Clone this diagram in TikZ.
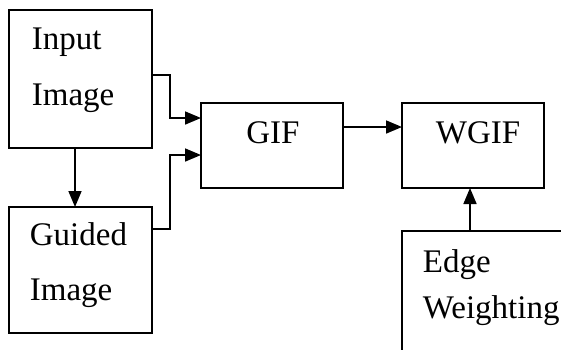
\documentclass[tikz,border=0pt]{standalone}
\usepackage{fontspec}
\setmainfont{Liberation Serif}
\usetikzlibrary{arrows.meta}

\begin{document}
\begin{tikzpicture}[x=1pt,y=-1pt,line width=1.7pt,
    blockbox/.style={draw,inner sep=0pt,outer sep=0pt},
    label/.style={inner sep=0pt,font=\fontsize{33}{38}\selectfont},
    arr/.style={-{Triangle[length=16pt,width=13pt]}}]
  \useasboundingbox (0,0) rectangle (561,349);
  \clip (0,0) rectangle (561,349);
  \node[blockbox,minimum width=143pt,minimum height=138pt] (inp) at (80.5,79) {};
  \node[blockbox,minimum width=143pt,minimum height=126pt] (gui) at (80.5,270) {};
  \node[blockbox,minimum width=142pt,minimum height=85pt] (gif) at (272,145.5) {};
  \node[blockbox,minimum width=142pt,minimum height=85pt] (wgif) at (473,145.5) {};
  \node[blockbox,minimum width=170pt,minimum height=130pt] (edge) at (487,296) {};
  % texts
  \node[label,anchor=base west] (inp1) at (31,49) {Input};
  \node[label,anchor=base west] (inp2) at (31,105) {Image};
  \node[label,anchor=base west] (gui1) at (29,245) {Guided};
  \node[label,anchor=base west] (gui2) at (29,300) {Image};
  \node[label,anchor=base] (giftxt) at (273,143) {GIF};
  \node[label,anchor=base] (wgiftxt) at (478,143) {WGIF};
  \node[label,anchor=base west] (edge1) at (422,272) {Edge};
  \node[label,anchor=base west] (edge2) at (422,318) {Weighting};
  % connectors
  \draw[arr] ([yshift=4pt]inp.east) -- ++(18pt,0) |- ([yshift=27.5pt]gif.west);
  \draw[arr] ([yshift=41pt]gui.east) -- ++(18pt,0) |- ([yshift=-9.5pt]gif.west);
  \draw[arr] ([xshift=-5.5pt]inp.south) -- ([xshift=-5.5pt]gui.north);
  \draw[arr] ([yshift=18.5pt]gif.east) -- ([yshift=18.5pt]wgif.west);
  \coordinate (wb) at ([xshift=-3pt]wgif.south);
  \draw[arr] (wb |- edge.north) -- (wb);
\end{tikzpicture}
\end{document}
